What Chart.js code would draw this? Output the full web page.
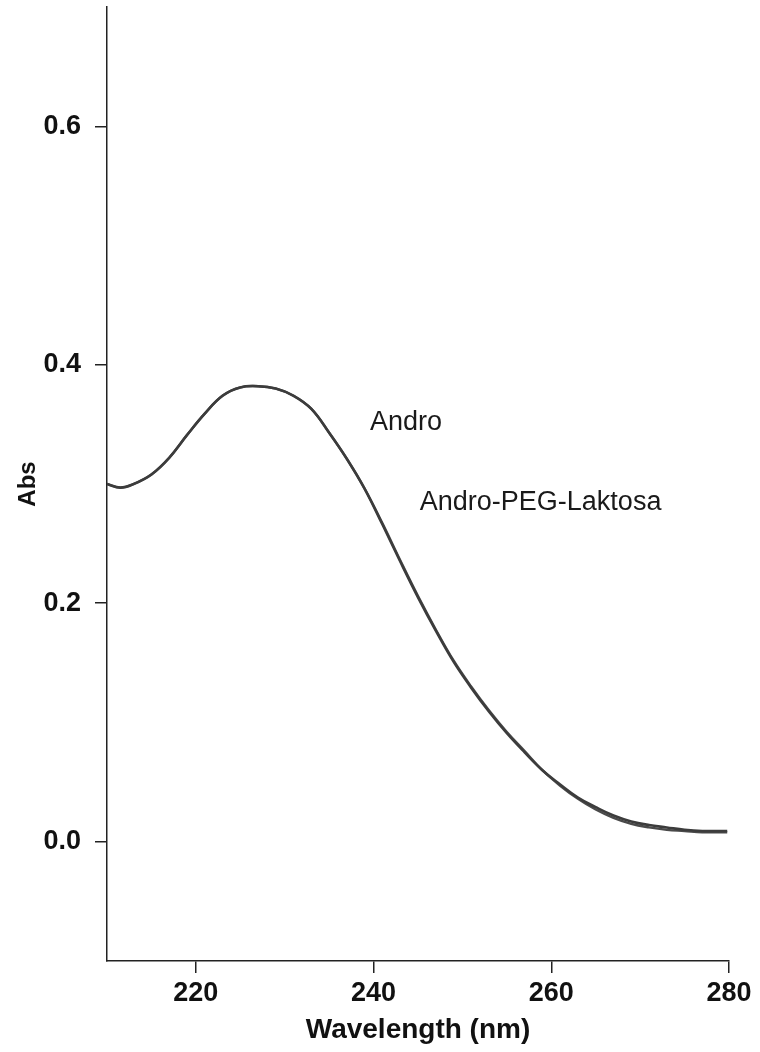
<!DOCTYPE html>
<html>
<head>
<meta charset="utf-8">
<script src="https://cdn.jsdelivr.net/npm/chart.js@4.4.0/dist/chart.umd.min.js"></script>
<style>
  html, body { margin: 0; padding: 0; background: #ffffff; }
  #wrap { width: 760px; height: 1052px; position: relative; }
</style>
</head>
<body>
<div id="wrap"><canvas id="c" width="760" height="1052"></canvas></div>
<script>
const wavelength = [210, 211.5, 213, 215, 217, 219, 221, 223, 225, 227, 229, 231, 233, 235, 237, 239, 241, 243, 245, 247, 249, 251, 253, 255, 257, 259, 261, 263, 265, 267, 269, 271, 273, 275, 277, 279.8];
const andro = [0.300, 0.297, 0.300, 0.308, 0.322, 0.341, 0.359, 0.374, 0.381, 0.382, 0.380, 0.374, 0.363, 0.343, 0.321, 0.296, 0.266, 0.235, 0.205, 0.177, 0.151, 0.129, 0.109, 0.091, 0.075, 0.060, 0.048, 0.037, 0.029, 0.022, 0.017, 0.014, 0.012, 0.010, 0.009, 0.009];
const androPegLaktosa = [0.300, 0.297, 0.300, 0.308, 0.322, 0.341, 0.359, 0.374, 0.381, 0.382, 0.380, 0.374, 0.363, 0.343, 0.321, 0.296, 0.267, 0.236, 0.206, 0.178, 0.152, 0.130, 0.110, 0.092, 0.076, 0.060, 0.047, 0.036, 0.027, 0.020, 0.015, 0.012, 0.010, 0.009, 0.008, 0.008];
const xTicks = [220, 240, 260, 280];
const yTicks = [0.0, 0.2, 0.4, 0.6];
const seriesNames = ['Andro', 'Andro-PEG-Laktosa'];
const curveLabels = [
  { text: 'Andro', x: 239.6, y: 0.345 },
  { text: 'Andro-PEG-Laktosa', x: 245.2, y: 0.278 }
];

const toPts = (xs, ys) => xs.map((x, i) => ({ x: x, y: ys[i] }));

const labelPlugin = {
  id: 'curveLabels',
  afterDatasetsDraw(chart) {
    const ctx = chart.ctx;
    const xs = chart.scales.x, ys = chart.scales.y;
    ctx.save();
    ctx.fillStyle = '#1a1a1a';
    ctx.font = '27px "Liberation Sans", Arial, sans-serif';
    ctx.textAlign = 'left';
    ctx.textBaseline = 'alphabetic';
    curveLabels.forEach(l => {
      ctx.fillText(l.text, xs.getPixelForValue(l.x), ys.getPixelForValue(l.y));
    });
    ctx.restore();
  }
};

const axisColor = '#222222';
const tickFont = { family: '"Liberation Sans", Arial, sans-serif', size: 27, weight: 'bold' };

new Chart(document.getElementById('c'), {
  type: 'line',
  data: {
    datasets: [
      { label: seriesNames[0], data: toPts(wavelength, andro), borderColor: '#3c3c3c', borderWidth: 2.6, pointRadius: 0, tension: 0.4, fill: false },
      { label: seriesNames[1], data: toPts(wavelength, androPegLaktosa), borderColor: '#4a4a4a', borderWidth: 2.4, pointRadius: 0, tension: 0.4, fill: false }
    ]
  },
  options: {
    responsive: false,
    animation: false,
    devicePixelRatio: 1,
    layout: { padding: { top: 7, right: 31, bottom: 0, left: 0 } },
    plugins: { legend: { display: false }, tooltip: { enabled: false } },
    scales: {
      x: {
        type: 'linear',
        min: 210, max: 280,
        afterBuildTicks: s => { s.ticks = xTicks.map(v => ({ value: v })); },
        afterFit: s => { s.height = 91; s.paddingLeft = 0; s.paddingRight = 0; },
        grid: { display: true, drawOnChartArea: false, drawTicks: true, tickLength: 12, color: axisColor, tickColor: axisColor, lineWidth: 1.5 },
        border: { display: true, color: axisColor, width: 1.5 },
        ticks: { color: '#111', font: tickFont, padding: 4, maxRotation: 0, autoSkip: false },
        title: { display: true, text: 'Wavelength (nm)', color: '#111', font: { family: '"Liberation Sans", Arial, sans-serif', size: 28, weight: 'bold' }, padding: { top: 0, bottom: 5 } }
      },
      y: {
        type: 'linear',
        min: -0.1, max: 0.7,
        afterBuildTicks: s => { s.ticks = yTicks.map(v => ({ value: v })); },
        afterFit: s => { s.width = 107; s.paddingTop = 0; s.paddingBottom = 0; },
        grid: { display: true, drawOnChartArea: false, drawTicks: true, tickLength: 12, color: axisColor, tickColor: axisColor, lineWidth: 1.5 },
        border: { display: true, color: axisColor, width: 1.5 },
        ticks: { color: '#111', font: tickFont, padding: 14, callback: v => v.toFixed(1) },
        title: { display: true, text: 'Abs', color: '#111', font: { family: '"Liberation Sans", Arial, sans-serif', size: 24, weight: 'bold' }, padding: { top: 14, bottom: 0 } }
      }
    }
  },
  plugins: [labelPlugin]
});
</script>
</body>
</html>
